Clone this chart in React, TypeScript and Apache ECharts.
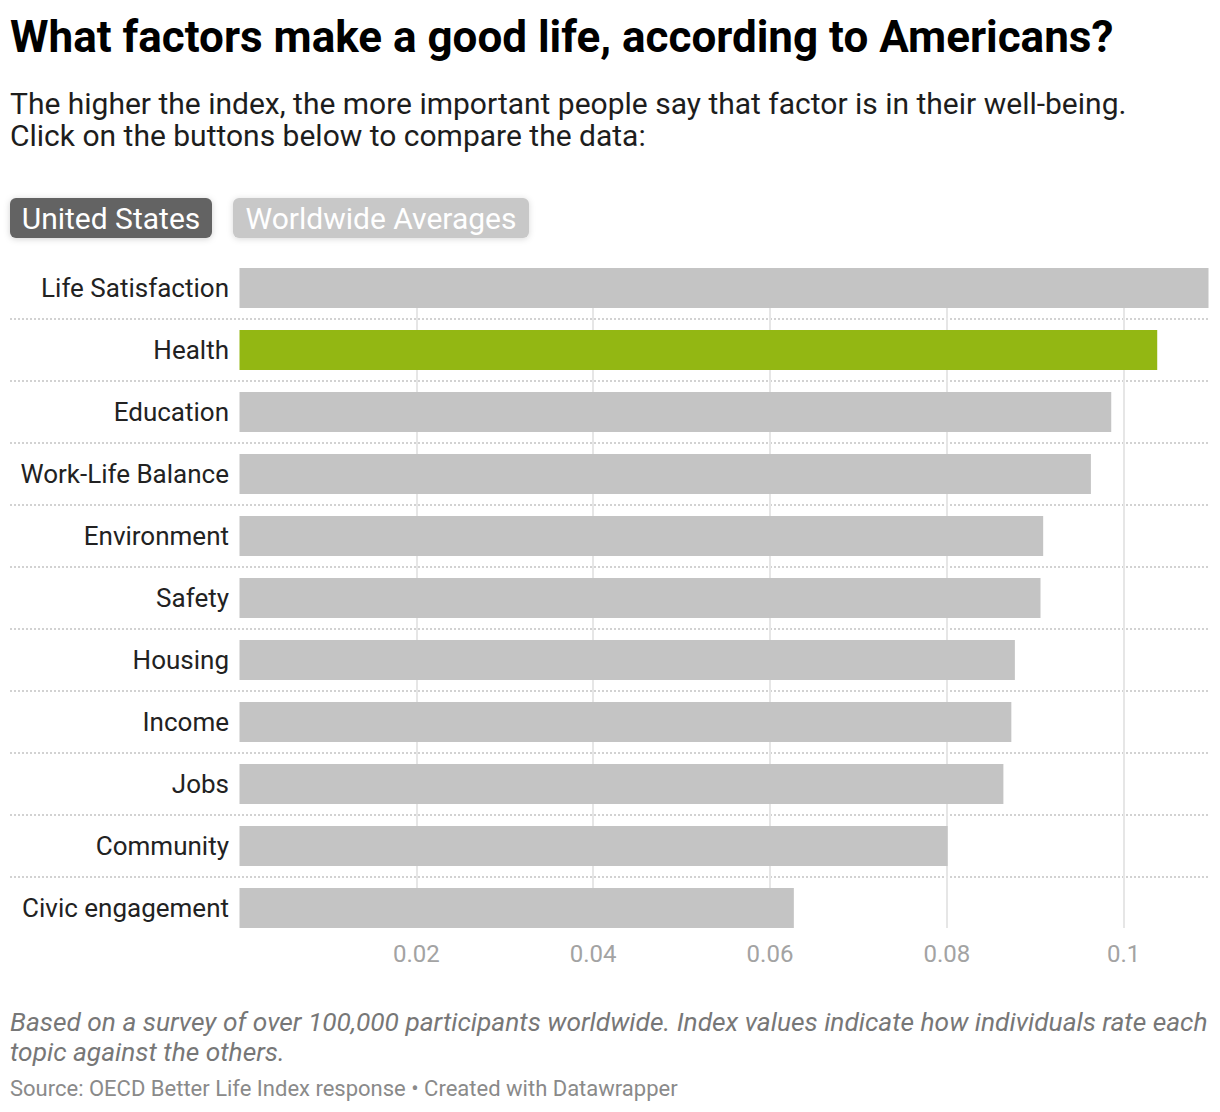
import React, { useEffect, useRef } from "react";
import * as echarts from "echarts";

const categories = [
  "Life Satisfaction",
  "Health",
  "Education",
  "Work-Life Balance",
  "Environment",
  "Safety",
  "Housing",
  "Income",
  "Jobs",
  "Community",
  "Civic engagement",
];
const values = [0.1096, 0.1038, 0.0986, 0.0963, 0.0909, 0.0906, 0.0877, 0.0873, 0.0864, 0.0801, 0.0627];
const highlighted = "Health";
const tickInterval = 0.02;

const titleText = "What factors make a good life, according to Americans?";
const subtitleLines = [
  "The higher the index, the more important people say that factor is in their well-being.",
  "Click on the buttons below to compare the data:",
];
const buttons = ["United States", "Worldwide Averages"];
const noteLines = [
  "Based on a survey of over 100,000 participants worldwide. Index values indicate how individuals rate each",
  "topic against the others.",
];
const sourceText = "Source: OECD Better Life Index response • Created with Datawrapper";

const FONT = "Roboto";

export default function App() {
  const ref = useRef<HTMLDivElement>(null);
  useEffect(() => {
    if (!ref.current) return;
    const chart = echarts.init(ref.current, undefined, { renderer: "svg" });
    const maxVal = Math.max(...values);
    const left = 239.5;
    const right = 11.5;
    const option: any = {
      animation: false,
      backgroundColor: "#ffffff",
      grid: [
        { left, right, top: 257, height: 682 },
        { left: 10, right, top: 257, height: 682 },
        { left, right, top: 268, height: 660 },
      ],
      xAxis: [
        { gridIndex: 0, type: "value", min: 0, max: maxVal, show: false },
        { gridIndex: 1, type: "value", min: 0, max: 1, show: false },
        {
          gridIndex: 2,
          type: "value",
          min: 0,
          max: maxVal,
          interval: tickInterval,
          z: 1,
          axisLine: { show: false },
          axisTick: { show: false },
          axisLabel: {
            show: true,
            showMinLabel: false,
            showMaxLabel: false,
            color: "#a3a3a3",
            fontFamily: FONT,
            fontSize: 24,
            margin: 14,
          },
          splitLine: {
            show: true,
            showMinLine: false,
            showMaxLine: false,
            lineStyle: { color: "#e6e6e6", width: 2 },
          },
        },
      ],
      yAxis: [
        {
          gridIndex: 0,
          type: "category",
          inverse: true,
          data: categories,
          axisLine: { show: false },
          axisTick: { show: false },
          splitLine: { show: false },
          axisLabel: { color: "#222222", fontFamily: FONT, fontSize: 26, margin: 10.5 },
        },
        {
          gridIndex: 1,
          type: "category",
          inverse: true,
          data: categories,
          z: 0,
          axisLine: { show: false },
          axisTick: { show: false },
          axisLabel: { show: false },
          splitLine: {
            show: true,
            showMinLine: false,
            showMaxLine: false,
            lineStyle: { color: "#d2d2d2", width: 2, type: [2, 2] },
          },
        },
        { gridIndex: 2, type: "value", min: 0, max: 1, show: false },
      ],
      series: [
        {
          type: "bar",
          xAxisIndex: 0,
          yAxisIndex: 0,
          barWidth: 40,
          z: 3,
          data: values.map((v, i) => ({
            value: v,
            itemStyle: { color: categories[i] === highlighted ? "#93b713" : "#c4c4c4" },
          })),
        },
      ],
      graphic: [
        {
          type: "text",
          x: 10,
          y: 37,
          style: {
            text: titleText,
            font: `bold 44px ${FONT}`,
            fill: "#000000",
            verticalAlign: "middle",
          },
        },
        ...subtitleLines.map((t, i) => ({
          type: "text",
          x: 10,
          y: 103 + i * 32,
          style: { text: t, font: `30px ${FONT}`, fill: "#1d1d1d", verticalAlign: "middle" },
        })),
        {
          type: "rect",
          shape: { x: 10, y: 198, width: 202, height: 40, r: 6 },
          style: { fill: "#636363", shadowBlur: 6, shadowColor: "rgba(0,0,0,0.18)", shadowOffsetY: 1 },
        },
        {
          type: "text",
          x: 111,
          y: 218.5,
          style: { text: buttons[0], font: `30px ${FONT}`, fill: "#ffffff", align: "center", verticalAlign: "middle" },
        },
        {
          type: "rect",
          shape: { x: 233, y: 198, width: 296, height: 40, r: 6 },
          style: { fill: "#c8c8c8", shadowBlur: 6, shadowColor: "rgba(0,0,0,0.15)", shadowOffsetY: 1 },
        },
        {
          type: "text",
          x: 381,
          y: 218.5,
          style: { text: buttons[1], font: `30px ${FONT}`, fill: "#ffffff", align: "center", verticalAlign: "middle" },
        },
        ...noteLines.map((t, i) => ({
          type: "text",
          x: 10,
          y: 1022 + i * 30,
          style: { text: t, font: `italic 26.3px ${FONT}`, fill: "#777777", verticalAlign: "middle" },
        })),
        {
          type: "text",
          x: 10,
          y: 1088,
          style: { text: sourceText, font: `22px ${FONT}`, fill: "#8a8a8a", verticalAlign: "middle" },
        },
      ],
    };
    chart.setOption(option);
    return () => chart.dispose();
  }, []);
  return (
    <div
      ref={ref}
      style={{ position: "absolute", left: 0, top: 0, width: 1220, height: 1112, background: "#fff" }}
    />
  );
}
